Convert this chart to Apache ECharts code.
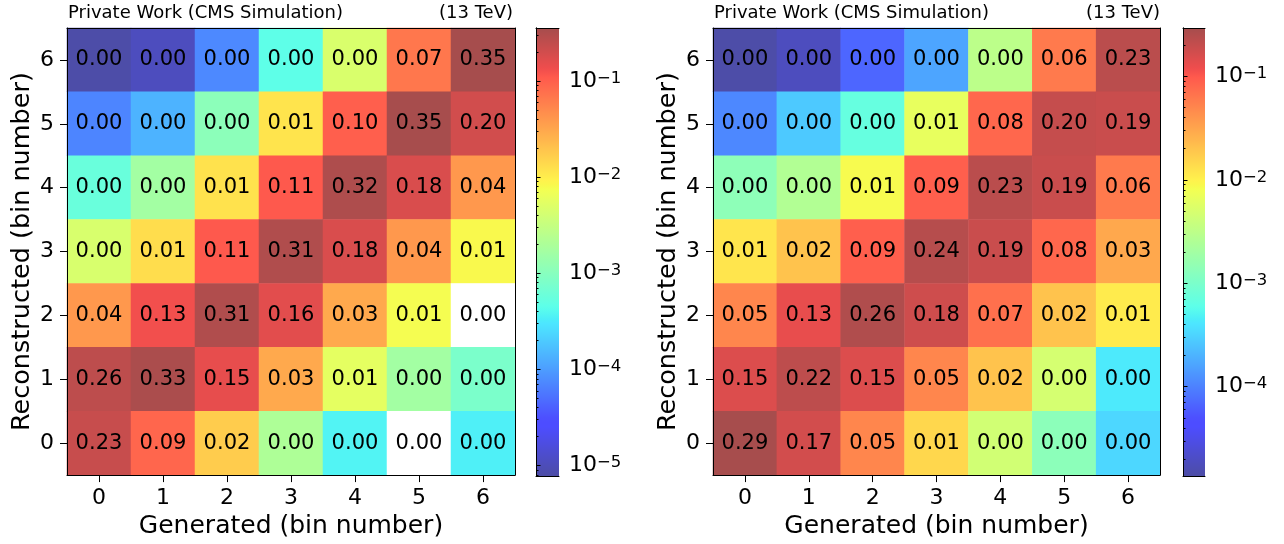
<!DOCTYPE html>
<html>
<head>
<meta charset="utf-8">
<script src="https://cdn.jsdelivr.net/npm/echarts@6/dist/echarts.min.js"></script>
<style>
  html, body { margin: 0; padding: 0; background: #ffffff; }
  #chart { width: 1284px; height: 544px; }
</style>
</head>
<body>
<div id="chart"></div>
<script>
// ---- data -------------------------------------------------------------
const binLabels = ['0', '1', '2', '3', '4', '5', '6'];

// Migration matrices: rows run from reconstructed bin 6 (top) down to bin 0,
// columns are generated bins 0..6. A value of 0 means an empty cell.
const leftMatrix = [
  [8.0e-6, 1.07e-5, 7.4e-5, 4.6e-4, 4.6e-3, 0.068, 0.352],
  [7.0e-5, 1.4e-4, 1.08e-3, 0.0115, 0.10, 0.350, 0.20],
  [5.7e-4, 1.66e-3, 0.012, 0.11, 0.32, 0.18, 0.04],
  [4.5e-3, 0.013, 0.11, 0.31, 0.18, 0.04, 0.0083],
  [0.04, 0.13, 0.31, 0.16, 0.03, 0.0077, 0],
  [0.26, 0.33, 0.15, 0.03, 0.0057, 1.66e-3, 7.9e-4],
  [0.23, 0.09, 0.017, 2.06e-3, 3.7e-4, 0, 3.5e-4]
];
const rightMatrix = [
  [1.4e-5, 1.85e-5, 6.8e-5, 1.65e-4, 3.1e-3, 0.06, 0.23],
  [1.1e-4, 2.7e-4, 7.0e-4, 6.6e-3, 0.08, 0.20, 0.19],
  [1.4e-3, 2.6e-3, 0.0086, 0.09, 0.23, 0.19, 0.06],
  [0.012, 0.02, 0.09, 0.24, 0.19, 0.08, 0.03],
  [0.05, 0.13, 0.26, 0.18, 0.07, 0.02, 0.011],
  [0.15, 0.22, 0.15, 0.05, 0.02, 4.8e-3, 4.3e-4],
  [0.29, 0.17, 0.05, 0.0148, 4.5e-3, 1.35e-3, 3.3e-4]
];

// Colour-scale limits (log scale)
const leftRange = [7.8e-6, 0.355];
const rightRange = [1.37e-5, 0.294];

// Colour-bar major tick exponents
const leftMajorExp = [-5, -4, -3, -2, -1];
const rightMajorExp = [-4, -3, -2, -1];

const headerLeft = 'Private Work (CMS Simulation)';
const headerRight = '(13 TeV)';
const xTitle = 'Generated (bin number)';
const yTitle = 'Reconstructed (bin number)';

// ---- colour map (jet, drawn at 70% opacity on white) -------------------
const JET = {
  r: [[0, 0], [0.35, 0], [0.66, 1], [0.89, 1], [1, 0.5]],
  g: [[0, 0], [0.125, 0], [0.375, 1], [0.64, 1], [0.91, 0], [1, 0]],
  b: [[0, 0.5], [0.11, 1], [0.34, 1], [0.65, 0], [1, 0]]
};
function seg(pts, t) {
  for (let i = 1; i < pts.length; i++) {
    if (t <= pts[i][0]) {
      const [x0, y0] = pts[i - 1], [x1, y1] = pts[i];
      return y0 + (y1 - y0) * (t - x0) / (x1 - x0);
    }
  }
  return pts[pts.length - 1][1];
}
const ALPHA = 0.7;
function jetColor(t) {
  t = Math.min(1, Math.max(0, t));
  const ch = (c) => Math.round(255 * (ALPHA * c + (1 - ALPHA)));
  return 'rgb(' + ch(seg(JET.r, t)) + ',' + ch(seg(JET.g, t)) + ',' + ch(seg(JET.b, t)) + ')';
}
const jetStops = [];
for (let i = 0; i <= 100; i++) jetStops.push({ offset: i / 100, color: jetColor(i / 100) });

// log-normalised colour of a cell; empty cells stay white
function cellColor(v, range) {
  if (!(v > 0)) return '#ffffff';
  const lo = Math.log10(range[0]), hi = Math.log10(range[1]);
  return jetColor((Math.log10(v) - lo) / (hi - lo));
}

// ---- helpers -----------------------------------------------------------
const FONT = 'DejaVu Sans';

function heatData(matrix, range) {
  const out = [];
  matrix.forEach((row, r) => {
    const yi = matrix.length - 1 - r;
    row.forEach((v, xi) => {
      out.push({ value: [xi, yi, v], itemStyle: { color: cellColor(v, range) } });
    });
  });
  return out;
}

function minorTicks(range) {
  const vals = [];
  for (let e = -7; e <= 0; e++) {
    for (let k = 2; k <= 9; k++) {
      const v = k * Math.pow(10, e);
      if (v > range[0] && v < range[1]) vals.push(v);
    }
  }
  return vals;
}

const supLabel = (v) => {
  const e = Math.round(Math.log10(v));
  return '{b|10}{s|' + (e < 0 ? '\u2212' : '') + Math.abs(e) + '}';
};

const lineOnly = { show: true, lineStyle: { color: '#000', width: 1 } };

function borderX(gridIndex, type, position, extra) {
  return Object.assign({
    gridIndex, type, position, z: 10,
    axisLine: lineOnly, axisTick: { show: false }, axisLabel: { show: false },
    splitLine: { show: false }
  }, extra || {});
}

function panelAxes(heatGrid, barGrid, range, majorExp) {
  const xAxes = [
    {
      gridIndex: heatGrid, type: 'category', data: binLabels, position: 'bottom', z: 10,
      axisLine: lineOnly,
      axisTick: { show: true, alignWithLabel: true, length: 7, lineStyle: { color: '#000' } },
      axisLabel: { color: '#000', fontFamily: FONT, fontSize: 22, margin: 12 },
      splitLine: { show: false },
      name: xTitle, nameLocation: 'middle', nameGap: 37,
      nameTextStyle: { color: '#000', fontFamily: FONT, fontSize: 25 }
    },
    borderX(heatGrid, 'category', 'top', { data: binLabels }),
    borderX(barGrid, 'value', 'bottom', { min: 0, max: 1 }),
    borderX(barGrid, 'value', 'top', { min: 0, max: 1 })
  ];
  const majors = majorExp.map((e) => Math.pow(10, e));
  const yAxes = [
    {
      gridIndex: heatGrid, type: 'category', data: binLabels, position: 'left', z: 10,
      axisLine: lineOnly,
      axisTick: { show: true, alignWithLabel: true, length: 7, lineStyle: { color: '#000' } },
      axisLabel: { color: '#000', fontFamily: FONT, fontSize: 22, margin: 13 },
      splitLine: { show: false },
      name: yTitle, nameLocation: 'middle', nameGap: 32, nameRotate: 90,
      nameTextStyle: { color: '#000', fontFamily: FONT, fontSize: 25.5 }
    },
    borderX(heatGrid, 'category', 'right', { data: binLabels }),
    {
      gridIndex: barGrid, type: 'log', logBase: 10, min: range[0], max: range[1],
      position: 'right', z: 10,
      axisLine: lineOnly,
      axisTick: { show: true, length: 4.5, customValues: majors, lineStyle: { color: '#000' } },
      axisLabel: {
        show: true, margin: 10, customValues: majors, formatter: supLabel, color: '#000',
        rich: {
          b: { fontFamily: FONT, fontSize: 22, lineHeight: 22, padding: [4, 0, 0, 0], verticalAlign: 'bottom', color: '#000' },
          s: { fontFamily: FONT, fontSize: 16.5, lineHeight: 16, verticalAlign: 'top', color: '#000' }
        }
      },
      splitLine: { show: false }
    },
    {
      gridIndex: barGrid, type: 'log', logBase: 10, min: range[0], max: range[1],
      position: 'right', z: 10,
      axisLine: { show: false },
      axisTick: { show: true, length: 2.5, customValues: minorTicks(range), lineStyle: { color: '#000' } },
      axisLabel: { show: false },
      splitLine: { show: false }
    },
    borderX(barGrid, 'log', 'left', { logBase: 10, min: range[0], max: range[1] })
  ];
  return { xAxes, yAxes };
}

function heatSeries(matrix, range, xi, yi) {
  return {
    type: 'heatmap', xAxisIndex: xi, yAxisIndex: yi,
    data: heatData(matrix, range),
    label: {
      show: true, color: '#000', fontFamily: FONT, fontSize: 21,
      formatter: (p) => p.value[2].toFixed(2)
    },
    itemStyle: { borderWidth: 0 },
    emphasis: { disabled: true },
    silent: true
  };
}

function barSeries(range, xi, yi) {
  return {
    type: 'custom', xAxisIndex: xi, yAxisIndex: yi, silent: true,
    data: [[0.5, range[0]]],
    renderItem: (params) => {
      const cs = params.coordSys;
      return {
        type: 'rect',
        shape: { x: cs.x, y: cs.y, width: cs.width, height: cs.height },
        style: { fill: new echarts.graphic.LinearGradient(0, 1, 0, 0, jetStops) }
      };
    }
  };
}

// ---- chart -------------------------------------------------------------
const chart = echarts.init(document.getElementById('chart'), null, { renderer: 'canvas' });

const L = panelAxes(0, 1, leftRange, leftMajorExp);
const R = panelAxes(2, 3, rightRange, rightMajorExp);

const titleStyle = { color: '#000', fontFamily: FONT, fontSize: 18, fontWeight: 'normal' };

chart.setOption({
  animation: false,
  backgroundColor: '#ffffff',
  title: [
    { text: headerLeft, left: 68, top: 4, padding: 0, textStyle: titleStyle },
    { text: headerRight, right: 771, top: 4, padding: 0, textStyle: titleStyle },
    { text: headerLeft, left: 714, top: 4, padding: 0, textStyle: titleStyle },
    { text: headerRight, right: 124, top: 4, padding: 0, textStyle: titleStyle }
  ],
  grid: [
    { left: 67, top: 28, width: 448, height: 448 },
    { left: 536, top: 28, width: 23, height: 448 },
    { left: 713, top: 28, width: 447, height: 448 },
    { left: 1183, top: 28, width: 22, height: 448 }
  ],
  xAxis: L.xAxes.concat(R.xAxes),
  yAxis: L.yAxes.concat(R.yAxes),
  series: [
    heatSeries(leftMatrix, leftRange, 0, 0),
    barSeries(leftRange, 2, 2),
    heatSeries(rightMatrix, rightRange, 4, 5),
    barSeries(rightRange, 6, 7)
  ]
});
</script>
</body>
</html>
